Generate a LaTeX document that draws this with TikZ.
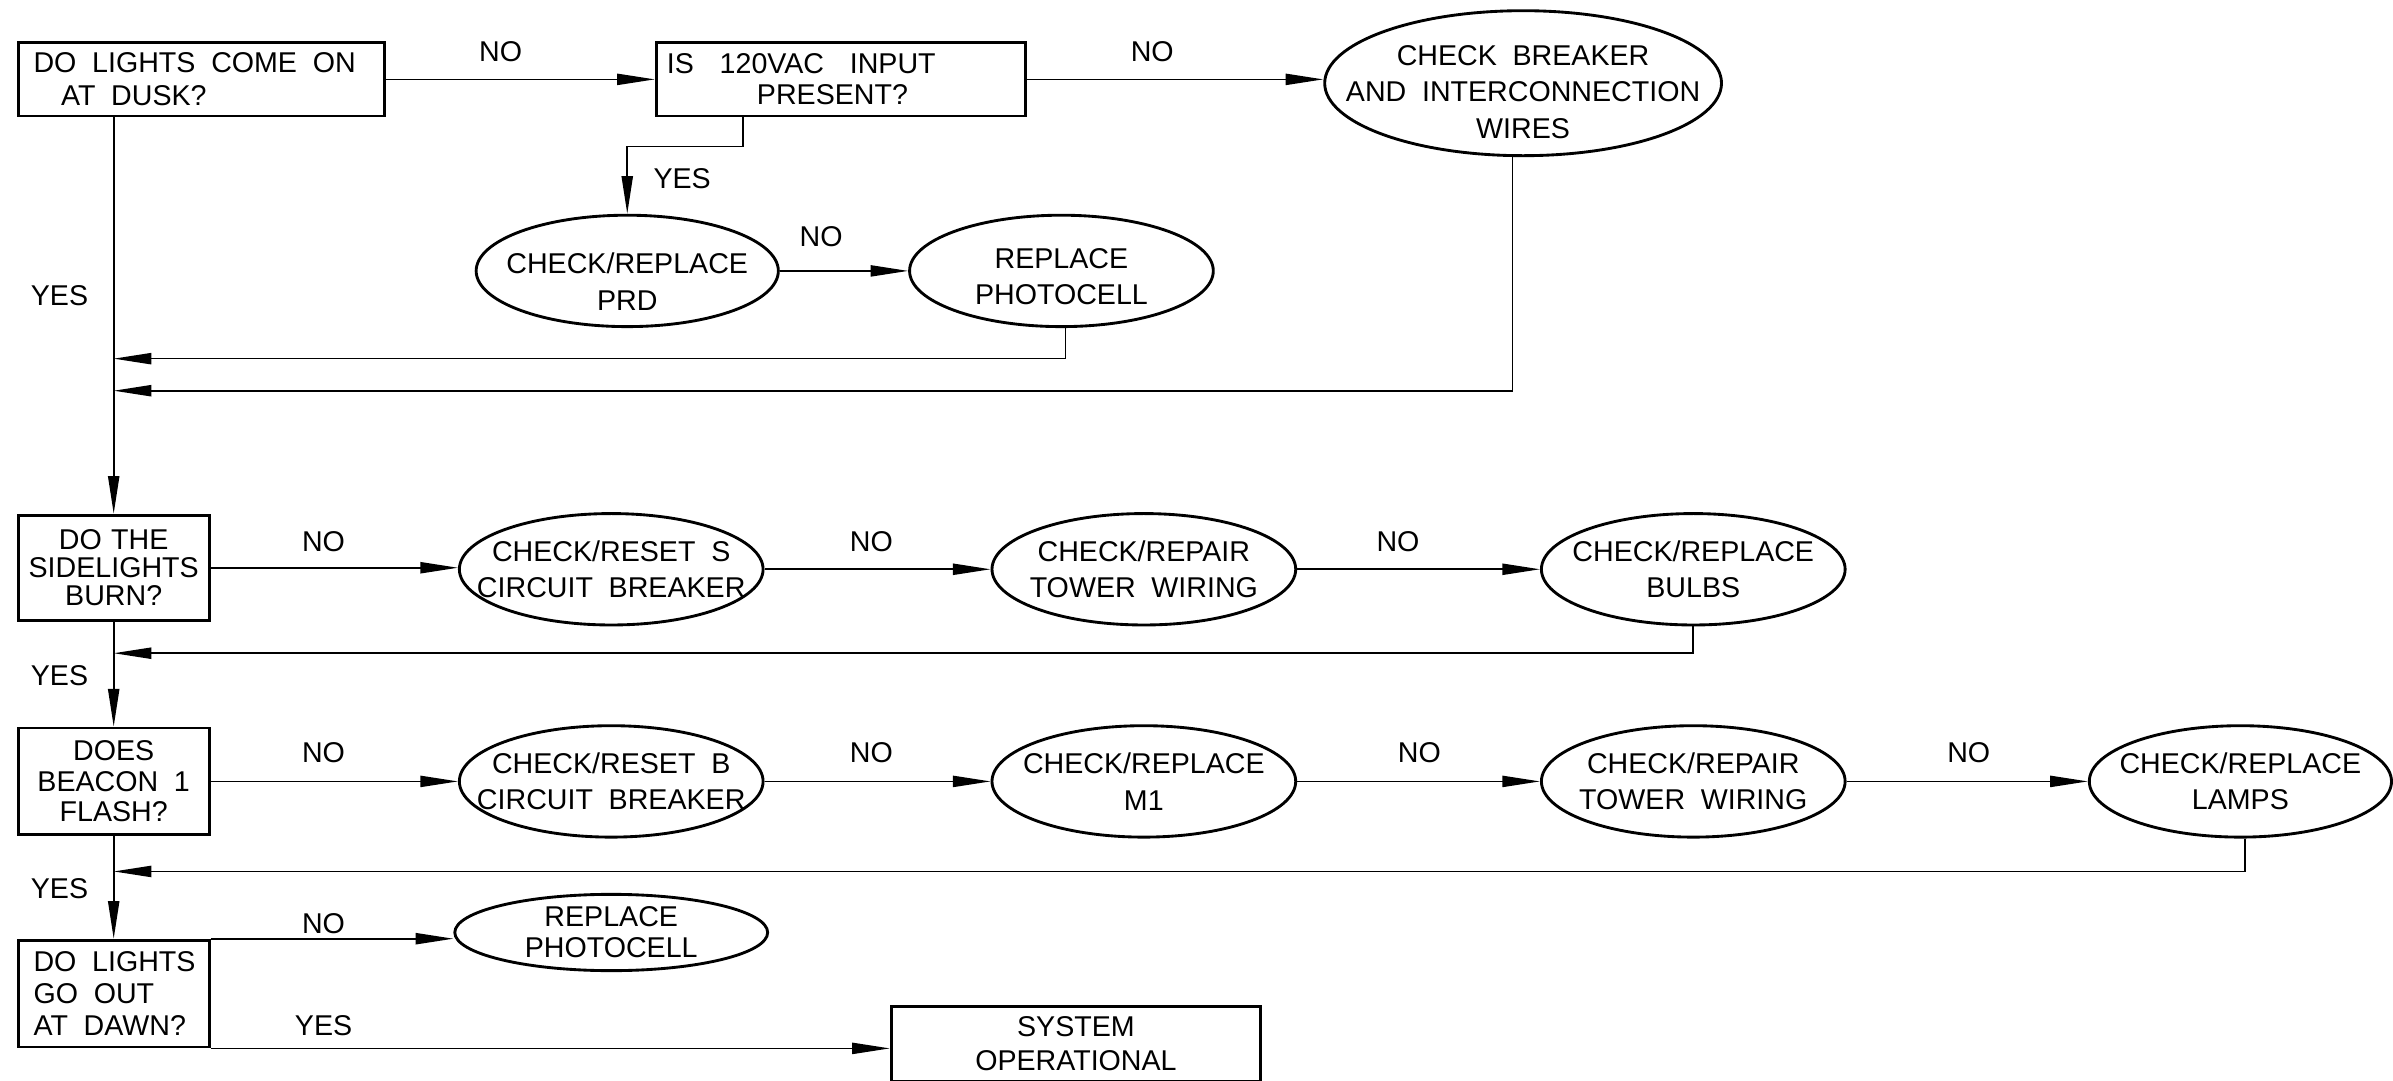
\documentclass[tikz,border=0pt]{standalone}
\usepackage{fontspec}
\setmainfont{Liberation Sans}
\usetikzlibrary{arrows.meta,shapes.geometric,calc}
\newcommand\wspace{\spaceskip=4.4pt\relax\xspaceskip=4.4pt\relax}
\newcommand\fs[1]{\fontsize{8}{#1}\selectfont}
\newcommand\topgap[1]{\rule{0pt}{#1}}
\begin{document}
\begin{tikzpicture}[x=0.015cm,y=-0.015cm,
  font=\fs{9pt},
  every node/.append style={execute at begin node=\wspace},
  conn/.style={line width=0.45pt},
  arr/.style={conn,-{Triangle[length=0.37cm,width=0.11cm]}},
  qbox/.style={draw,line width=0.8pt,rectangle,inner ysep=0pt},
  oval/.style={draw,line width=0.8pt,ellipse,inner sep=-0.6cm,align=center,font=\fs{10.2pt}},
  lbl/.style={inner sep=0pt}]
\useasboundingbox (0,0) rectangle (1568,708);
% decision boxes
\node[qbox,align=left,text width=3.3cm,inner xsep=0.15cm,minimum height=0.72cm,font=\fs{9.3pt}] (box1) at (132,52)
  {DO LIGHTS COME ON\\\hspace*{0.27cm}AT DUSK?};
\node[qbox,align=left,text width=3.42cm,inner xsep=0.105cm,minimum height=0.72cm,font=\fs{8.7pt}] (box2) at (551,52)
  {IS\hspace{7.2pt}120VAC\hspace{7.2pt}INPUT\\\hspace*{0.885cm}PRESENT?};
\node[qbox,align=center,text width=1.675cm,inner xsep=0.1cm,minimum height=1.035cm,font=\fs{7.9pt}] (side) at (74.5,372)
  {DO\hspace{2.6pt}THE\\SIDELIGHTS\\BURN?};
\node[qbox,align=center,text width=1.675cm,inner xsep=0.1cm,minimum height=1.05cm,font=\fs{8.5pt}] (beacon) at (74.5,512)
  {DOES\\BEACON~1\\FLASH?};
\node[qbox,align=left,text width=1.675cm,inner xsep=0.1cm,minimum height=1.05cm,font=\fs{9pt}] (dawn) at (74.5,651)
  {\hspace*{0.05cm}DO~LIGHTS\\\hspace*{0.05cm}GO~OUT\\\hspace*{0.05cm}AT~DAWN?};
\node[qbox,align=center,text width=3.43cm,inner xsep=0.1cm,minimum height=0.735cm,font=\fs{9.4pt}] (sys) at (705,684)
  {SYSTEM\\OPERATIONAL};
% action ellipses
\node[oval,minimum width=3.9cm,minimum height=1.425cm] (brk) at (998,54.5)
  {\topgap{10.4pt}CHECK BREAKER\\AND INTERCONNECTION\\WIRES};
\node[oval,minimum width=2.97cm,minimum height=1.095cm] (prd) at (411,177.5) {\topgap{11.7pt}CHECK/REPLACE\\PRD};
\node[oval,minimum width=2.985cm,minimum height=1.095cm] (pc1) at (695.5,177.5) {\topgap{8.7pt}REPLACE\\PHOTOCELL};
\node[oval,minimum width=2.985cm,minimum height=1.095cm] (rs) at (400.5,373) {CHECK/RESET S\\CIRCUIT BREAKER};
\node[oval,minimum width=2.985cm,minimum height=1.095cm] (tw1) at (749.5,373) {CHECK/REPAIR\\TOWER WIRING};
\node[oval,minimum width=2.985cm,minimum height=1.095cm] (bulbs) at (1109.5,373) {CHECK/REPLACE\\BULBS};
\node[oval,minimum width=2.985cm,minimum height=1.095cm] (rb) at (400.5,512) {CHECK/RESET B\\CIRCUIT BREAKER};
\node[oval,minimum width=2.985cm,minimum height=1.095cm] (m1) at (749.5,512) {CHECK/REPLACE\\M1};
\node[oval,minimum width=2.985cm,minimum height=1.095cm] (tw2) at (1109.5,512) {CHECK/REPAIR\\TOWER WIRING};
\node[oval,minimum width=2.97cm,minimum height=1.095cm] (lamps) at (1468,512) {CHECK/REPLACE\\LAMPS};
\node[oval,minimum width=3.075cm,minimum height=0.75cm,font=\fs{8.6pt}] (pc2) at (400.5,611) {REPLACE\\PHOTOCELL};
% return points on the main line
\coordinate (r1) at (74.5,235);
\coordinate (r2) at (74.5,256);
\coordinate (r3) at (74.5,428);
\coordinate (r4) at (74.5,571);
% connectors
\draw[arr] (box1.east) -- (box2.west);
\draw[arr] (box2.east) -- (box2.east -| brk.west);
\draw[arr] ([xshift=-0.96cm]box2.south) -- ++(0,19) -| (prd.north);
\draw[arr] (prd.east) -- (pc1.west);
\draw[arr] ([xshift=0.04cm]pc1.south) |- (r1);
\draw[arr] ([xshift=-0.105cm]brk.south) |- (r2);
\draw[arr] (side.north |- box1.south) -- (side.north);
\draw[arr] (side.east) -- (side.east -| rs.west);
\draw[arr] (rs.east) -- (tw1.west);
\draw[arr] (tw1.east) -- (bulbs.west);
\draw[arr] (bulbs.south) |- (r3);
\draw[arr] (side.south) -- (beacon.north);
\draw[arr] (beacon.east) -- (rb.west);
\draw[arr] (rb.east) -- (m1.west);
\draw[arr] (m1.east) -- (tw2.west);
\draw[arr] (tw2.east) -- (lamps.west);
\draw[arr] ([xshift=0.045cm]lamps.south) |- (r4);
\draw[arr] (beacon.south) -- (dawn.north);
\draw[arr] (dawn.north east) -- (dawn.north east -| pc2.west);
\draw[arr] (dawn.south east) -- (dawn.south east -| sys.west);
% labels
\node[lbl] (n1) at (328,34) {NO};
\node[lbl] (n2) at (755,34) {NO};
\node[lbl] (y1) at (447,117) {YES};
\node[lbl] (n3) at (538,155) {NO};
\node[lbl] (y2) at (39,194) {YES};
\node[lbl] (n4) at (212,355) {NO};
\node[lbl] (n5) at (571,355) {NO};
\node[lbl] (n6) at (916,355) {NO};
\node[lbl] (y3) at (39,443) {YES};
\node[lbl] (n7) at (212,493) {NO};
\node[lbl] (n8) at (571,493) {NO};
\node[lbl] (n9) at (930,493) {NO};
\node[lbl] (n10) at (1290,493) {NO};
\node[lbl] (y4) at (39,582) {YES};
\node[lbl] (n11) at (212,605) {NO};
\node[lbl] (y5) at (212,672) {YES};
\end{tikzpicture}
\end{document}
